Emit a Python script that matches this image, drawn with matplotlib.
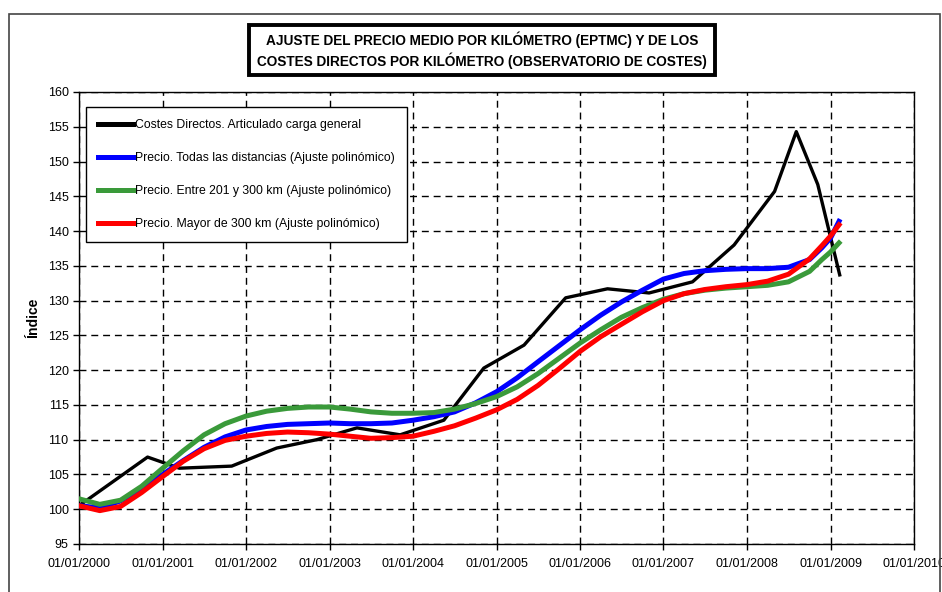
import matplotlib
matplotlib.use("Agg")
import matplotlib.pyplot as plt
import matplotlib.dates as mdates
from matplotlib.patches import Rectangle
import pandas as pd

# --- data ---
coste_fechas = ["2000-01-01", "2000-10-27", "2001-03-15", "2001-10-30", "2002-05-15",
                "2002-11-06", "2003-05-01", "2003-11-06", "2004-05-15", "2004-11-06",
                "2005-05-01", "2005-10-30", "2006-05-01", "2006-10-30", "2007-05-08",
                "2007-11-06", "2008-05-01", "2008-08-04", "2008-11-06", "2009-02-10"]
coste_valores = [100.5, 107.5, 105.9, 106.2, 108.8,
                 110.0, 111.7, 110.7, 112.8, 120.3,
                 123.6, 130.4, 131.7, 131.1, 132.7,
                 138.0, 145.7, 154.3, 146.7, 133.7]

ajuste_fechas = ["2000-01-01", "2000-04-01", "2000-07-01", "2000-10-01",
                 "2001-01-01", "2001-04-01", "2001-07-01", "2001-10-01",
                 "2002-01-01", "2002-04-01", "2002-07-01", "2002-10-01",
                 "2003-01-01", "2003-04-01", "2003-07-01", "2003-10-01",
                 "2004-01-01", "2004-04-01", "2004-07-01", "2004-10-01",
                 "2005-01-01", "2005-04-01", "2005-07-01", "2005-10-01",
                 "2006-01-01", "2006-04-01", "2006-07-01", "2006-10-01",
                 "2007-01-01", "2007-04-01", "2007-07-01", "2007-10-01",
                 "2008-01-01", "2008-04-01", "2008-07-01", "2008-10-01",
                 "2008-11-24", "2009-01-01", "2009-02-07"]
todas = [100.5, 100.2, 101.2, 103.0,
         105.0, 107.0, 108.9, 110.4,
         111.4, 111.9, 112.2, 112.3,
         112.4, 112.3, 112.3, 112.4,
         112.8, 113.3, 114.0, 115.3,
         116.9, 118.9, 121.2, 123.5,
         125.8, 127.9, 129.8, 131.5,
         133.1, 133.9, 134.3, 134.5,
         134.6, 134.6, 134.8, 135.9,
         137.6, 139.0, 141.4]
entre_201_300 = [101.5, 100.7, 101.3, 103.3,
                 105.9, 108.4, 110.7, 112.3,
                 113.4, 114.1, 114.5, 114.7,
                 114.7, 114.4, 114.0, 113.8,
                 113.8, 113.9, 114.4, 115.2,
                 116.2, 117.6, 119.5, 121.7,
                 123.9, 125.8, 127.6, 129.0,
                 130.2, 131.0, 131.5, 131.8,
                 132.0, 132.2, 132.7, 134.2,
                 135.9, 137.0, 138.3]
mayor_300 = [100.5, 99.8, 100.4, 102.4,
             104.7, 106.9, 108.7, 109.9,
             110.5, 110.9, 111.1, 111.0,
             110.8, 110.5, 110.2, 110.3,
             110.5, 111.2, 112.0, 113.1,
             114.3, 115.8, 117.8, 120.2,
             122.7, 124.8, 126.6, 128.4,
             130.0, 131.0, 131.6, 132.0,
             132.3, 132.8, 133.8, 136.0,
             137.9, 139.3, 140.9]

etiquetas = ["Costes Directos. Articulado carga general",
             "Precio. Todas las distancias (Ajuste polinómico)",
             "Precio. Entre 201 y 300 km (Ajuste polinómico)",
             "Precio. Mayor de 300 km (Ajuste polinómico)"]

plt.rcParams['font.family'] = ['Liberation Sans', 'DejaVu Sans']

xc = pd.to_datetime(coste_fechas)
xa = pd.to_datetime(ajuste_fechas)

fig = plt.figure(figsize=(9.42, 5.92), dpi=100)
ax = fig.add_axes([79 / 942, 1 - 544 / 592, (914 - 79) / 942, (544 - 92) / 592])

ax.plot(xc, coste_valores, color="black", lw=2.4, label=etiquetas[0], zorder=3)
ax.plot(xa, todas, color="#0000ff", lw=3.6, label=etiquetas[1], zorder=4)
ax.plot(xa, entre_201_300, color="#3a9a3a", lw=3.6, label=etiquetas[2], zorder=4)
ax.plot(xa, mayor_300, color="#ff0000", lw=3.6, label=etiquetas[3], zorder=5)

ax.set_xlim(pd.Timestamp("2000-01-01"), pd.Timestamp("2010-01-01"))
ax.set_ylim(95, 160)
ax.set_yticks(range(95, 161, 5))
ax.xaxis.set_major_locator(mdates.YearLocator())
ax.xaxis.set_major_formatter(mdates.DateFormatter("%d/%m/%Y"))
ax.tick_params(direction="out", length=4, width=1, labelsize=9, colors="black")
ax.tick_params(axis="x", pad=6)
ax.grid(True, color="black", linestyle=(0, (5, 3.5)), lw=1)
for s in ax.spines.values():
    s.set_linewidth(1)
ax.set_ylabel("Índice", fontsize=10, fontweight="bold", labelpad=5)

leg = ax.legend(loc="upper left", bbox_to_anchor=(0.008, 0.9675), fontsize=8.8,
                frameon=True, fancybox=False, edgecolor="black", framealpha=1,
                handlelength=2.9, handletextpad=0.1, labelspacing=1.72,
                borderpad=1.0, borderaxespad=0)
leg.get_frame().set_linewidth(1)
for ln in leg.get_lines():
    ln.set_linewidth(3.6)

# title box
fig.text(482 / 942, 1 - 50 / 592,
         "AJUSTE DEL PRECIO MEDIO POR KILÓMETRO (EPTMC) Y DE LOS\n"
         "COSTES DIRECTOS POR KILÓMETRO (OBSERVATORIO DE COSTES)",
         ha="center", va="center", fontsize=9.8, fontweight="bold",
         linespacing=1.3)
fig.patches.append(Rectangle((249 / 942, 1 - 75 / 592), 466 / 942, 50 / 592,
                             transform=fig.transFigure, fill=False,
                             edgecolor="black", lw=2.8))
# chart area border
fig.patches.append(Rectangle((8.5 / 942, -0.05), 931 / 942, 1.05 - 14 / 592,
                             transform=fig.transFigure, fill=False,
                             edgecolor="#444444", lw=1.2))

fig.savefig("out.png", dpi=100)
